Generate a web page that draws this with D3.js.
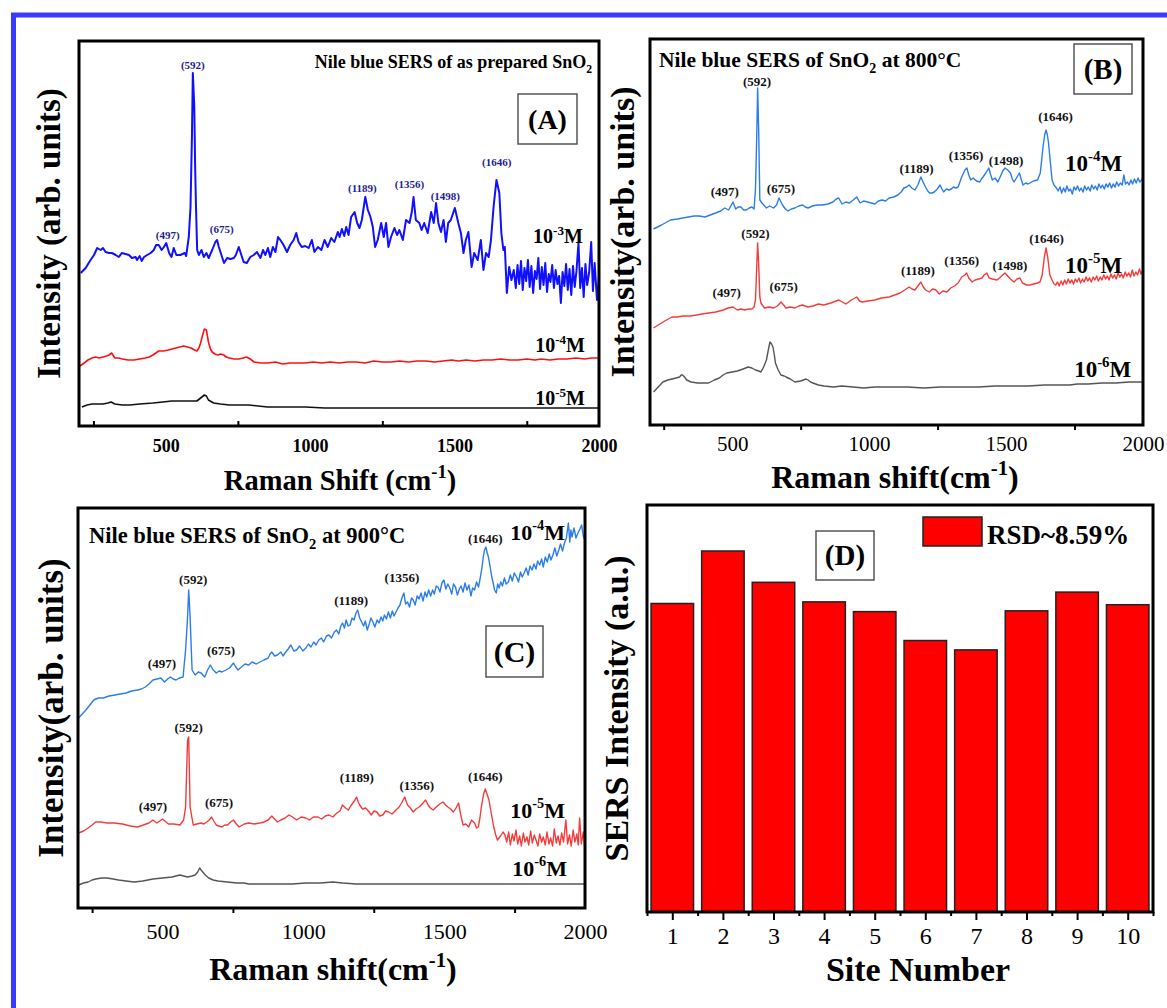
<!DOCTYPE html>
<html>
<head>
<meta charset="utf-8">
<script src="https://cdn.jsdelivr.net/npm/d3@7"></script>
<style>
body { margin: 0; background: #fff; }
text { font-family: "Liberation Serif", "Times New Roman", serif; }
</style>
</head>
<body>
<svg id="fig"></svg>
<script>
// ---------- data (Raman shift cm-1, intensity arb. units) ----------
var aBlue3 = [[206,153],[223,158],[240,166],[252,171],[263,178],[275,176],[283,178],[292,174],[304,173],[314,173],[327,171],[338,169],[348,173],[361,172],[373,171],[383,168],[396,169],[401,166],[410,170],[417,165],[425,169],[436,171],[448,173],[459,176],[467,181],[476,181],[486,176],[494,179],[502,183],[512,173],[520,169],[528,178],[537,171],[551,171],[566,173],[571,170],[580,189],[586,219],[591,290],[594,353],[599,320],[602,260],[605,219],[609,176],[615,171],[624,176],[632,169],[641,173],[649,168],[661,176],[672,184],[678,186],[684,179],[693,171],[702,163],[713,168],[724,167],[736,168],[743,171],[753,179],[762,171],[770,164],[781,163],[793,169],[805,171],[816,174],[828,168],[837,176],[845,171],[854,178],[862,169],[871,179],[880,174],[889,189],[897,186],[908,181],[920,174],[931,181],[943,186],[952,193],[960,184],[971,179],[983,180],[995,178],[1006,186],[1015,174],[1027,179],[1039,176],[1050,186],[1061,179],[1073,188],[1084,184],[1096,194],[1102,189],[1110,197],[1118,190],[1125,199],[1133,191],[1142,209],[1154,214],[1163,203],[1171,198],[1179,206],[1191,229],[1200,216],[1209,209],[1217,199],[1225,179],[1234,186],[1246,203],[1255,189],[1263,203],[1271,179],[1280,189],[1292,198],[1301,191],[1309,196],[1321,186],[1332,206],[1344,203],[1352,214],[1358,229],[1366,206],[1378,203],[1386,196],[1395,203],[1407,193],[1419,214],[1428,203],[1436,223],[1444,203],[1453,194],[1462,206],[1470,184],[1478,203],[1487,206],[1501,218],[1513,203],[1522,193],[1531,173],[1539,186],[1548,194],[1559,159],[1568,173],[1580,166],[1591,186],[1600,156],[1609,173],[1618,169],[1626,186],[1635,219],[1645,246],[1655,233],[1662,193],[1669,176],[1674,179],[1681,133],[1689,159],[1697,146],[1705,156],[1712,138],[1718,161],[1724,142],[1730,165],[1736,136],[1742,158],[1748,145],[1754,166],[1760,139],[1766,160],[1772,133],[1778,155],[1784,147],[1790,168],[1796,137],[1802,159],[1808,141],[1814,163],[1820,134],[1826,152],[1832,144],[1838,161],[1844,138],[1850,156],[1856,142],[1862,150],[1868,123],[1874,154],[1880,140],[1886,162],[1892,136],[1898,157],[1904,131],[1910,160],[1916,139],[1922,155],[1929,183],[1935,138],[1941,158],[1947,129],[1953,162],[1959,141],[1966,154],[1973,184],[1979,135],[1985,163],[1993,126],[2000,150]];
var aRed4 = [[203,60],[218,63],[231,66],[245,68],[258,69],[270,68],[283,69],[295,70],[304,71],[313,73],[324,68],[337,68],[350,67],[370,66],[390,66],[410,67],[429,68],[443,69],[456,71],[466,73],[476,75],[492,75],[509,76],[522,77],[535,78],[549,79],[562,80],[575,79],[588,78],[600,76],[608,75],[615,78],[621,83],[627,90],[634,97],[641,96],[648,84],[655,77],[661,74],[670,72],[680,71],[690,72],[701,71],[710,69],[720,68],[737,67],[753,67],[768,68],[780,69],[793,67],[806,64],[830,63],[853,63],[880,64],[905,62],[930,63],[960,63],[984,63],[1010,64],[1040,63],[1070,64],[1100,63],[1130,64],[1160,64],[1190,63],[1220,65],[1249,64],[1280,64],[1310,65],[1340,64],[1370,65],[1400,65],[1430,64],[1460,65],[1490,66],[1513,65],[1540,66],[1570,65],[1600,66],[1630,66],[1660,67],[1690,66],[1720,66],[1750,67],[1778,66],[1800,67],[1830,66],[1860,67],[1890,67],[1920,68],[1950,67],[1975,68],[1998,68]];
var aBlack5 = [[210,19],[228,21],[245,22],[265,22],[283,22],[300,23],[311,24],[324,22],[350,21],[376,21],[410,22],[456,23],[490,24],[521,25],[555,25],[587,25],[608,25],[621,28],[634,31],[641,30],[648,26],[666,23],[690,22],[720,21],[750,21],[787,21],[820,20],[853,19],[900,19],[984,19],[1050,18],[1150,18],[1250,18],[1400,18],[1550,18],[1700,18],[1850,18],[1998,18]];

var bBlue4 = [[213,196],[242,200],[275,205],[300,206],[320,207],[340,208],[361,209],[380,209],[401,208],[420,210],[440,212],[458,214],[473,217],[487,215],[503,223],[513,216],[522,218],[532,218],[542,215],[552,215],[562,217],[572,218],[580,216],[585,235],[590,292],[593,337],[597,292],[601,225],[609,222],[625,217],[637,219],[651,217],[662,220],[671,227],[684,220],[694,216],[704,214],[716,216],[729,217],[743,219],[757,220],[767,218],[777,217],[793,219],[810,220],[829,220],[850,221],[868,223],[880,226],[889,227],[901,221],[915,223],[928,222],[942,225],[955,228],[967,222],[980,224],[994,223],[1008,222],[1021,221],[1034,224],[1047,225],[1060,224],[1073,227],[1090,228],[1105,230],[1117,233],[1127,237],[1137,238],[1146,240],[1156,237],[1167,235],[1178,240],[1189,248],[1197,243],[1206,238],[1214,234],[1221,232],[1230,232],[1238,233],[1249,236],[1259,240],[1266,236],[1272,233],[1282,236],[1292,235],[1300,236],[1308,238],[1317,237],[1325,238],[1338,248],[1350,255],[1357,257],[1364,250],[1371,245],[1380,247],[1392,244],[1404,243],[1410,246],[1416,248],[1426,252],[1437,257],[1443,251],[1450,245],[1460,247],[1470,243],[1480,249],[1488,254],[1496,257],[1506,255],[1516,252],[1523,246],[1529,243],[1540,248],[1549,252],[1556,245],[1562,240],[1572,242],[1580,241],[1587,242],[1600,244],[1615,245],[1625,252],[1635,278],[1641,290],[1646,295],[1651,290],[1655,282],[1662,262],[1668,245],[1675,240],[1684,237],[1690,234],[1697,238],[1703,232],[1710,237],[1716,233],[1722,239],[1729,234],[1735,236],[1742,231],[1748,238],[1755,235],[1761,239],[1768,234],[1774,237],[1781,233],[1787,239],[1794,235],[1800,238],[1807,234],[1813,240],[1820,236],[1826,239],[1833,235],[1839,241],[1846,237],[1852,240],[1859,236],[1865,241],[1872,238],[1878,242],[1885,237],[1891,241],[1898,238],[1904,243],[1911,239],[1917,242],[1924,240],[1930,250],[1936,241],[1943,243],[1949,240],[1956,245],[1962,241],[1969,246],[1975,242],[1982,247],[1988,243],[1998,246]];
var bRed5 = [[213,97],[230,100],[242,102],[260,105],[280,108],[300,108],[320,109],[346,109],[370,110],[390,111],[414,112],[440,113],[467,115],[485,117],[503,118],[519,115],[532,116],[546,115],[560,116],[572,116],[580,118],[585,125],[590,160],[593,182],[597,160],[601,128],[605,122],[618,117],[635,118],[651,117],[665,119],[678,123],[688,120],[696,117],[712,118],[729,117],[743,119],[757,120],[777,118],[795,119],[815,121],[835,120],[860,122],[889,125],[902,123],[915,121],[935,125],[955,128],[965,124],[974,123],[995,124],[1021,125],[1045,127],[1073,128],[1093,130],[1113,132],[1130,135],[1146,138],[1157,136],[1167,135],[1178,139],[1189,143],[1198,138],[1206,135],[1220,133],[1232,136],[1244,135],[1256,131],[1270,134],[1284,133],[1298,137],[1312,139],[1325,142],[1338,148],[1350,150],[1356,152],[1364,147],[1376,143],[1387,145],[1400,146],[1412,147],[1420,150],[1430,152],[1438,147],[1450,146],[1467,145],[1480,148],[1496,152],[1506,149],[1516,146],[1529,143],[1540,146],[1551,147],[1560,142],[1575,140],[1587,140],[1600,141],[1615,142],[1624,143],[1632,150],[1640,168],[1646,177],[1652,168],[1660,150],[1668,145],[1675,141],[1681,140],[1688,143],[1694,139],[1701,144],[1707,140],[1714,145],[1720,141],[1727,146],[1733,142],[1740,145],[1746,141],[1753,146],[1759,143],[1766,147],[1772,142],[1779,146],[1785,143],[1792,148],[1798,144],[1805,147],[1811,143],[1818,148],[1824,145],[1831,149],[1837,144],[1844,148],[1850,145],[1857,150],[1863,146],[1870,149],[1876,145],[1883,151],[1889,147],[1896,150],[1902,146],[1909,152],[1915,148],[1922,151],[1928,147],[1935,153],[1941,149],[1948,152],[1954,148],[1961,155],[1967,149],[1974,153],[1980,150],[1987,156],[1993,151],[1998,154]];
var bGray6 = [[213,33],[230,38],[247,43],[265,45],[280,46],[295,47],[308,48],[314,50],[319,50],[326,48],[334,45],[350,43],[374,42],[395,42],[414,42],[435,45],[453,47],[467,50],[480,52],[500,53],[519,54],[540,56],[558,58],[572,57],[585,55],[597,54],[605,53],[615,58],[625,65],[632,75],[638,83],[644,81],[649,78],[654,70],[658,62],[668,55],[678,50],[690,49],[697,48],[712,46],[729,43],[750,44],[770,46],[777,45],[786,43],[795,42],[815,40],[835,39],[870,38],[900,39],[941,38],[980,37],[1020,38],[1080,38],[1140,38],[1200,37],[1260,38],[1338,38],[1400,38],[1460,39],[1520,39],[1580,39],[1640,40],[1690,40],[1733,40],[1760,41],[1800,41],[1850,42],[1900,42],[1950,43],[1998,43]];

var cBlue4 = [[202,190],[215,194],[228,198],[242,203],[256,208],[272,210],[290,210],[310,212],[331,213],[350,214],[371,215],[390,217],[412,218],[425,219],[439,221],[452,224],[466,228],[480,229],[494,230],[507,226],[518,229],[528,231],[538,229],[548,228],[560,230],[573,231],[582,258],[589,291],[593,318],[598,291],[605,238],[616,233],[627,236],[637,235],[650,231],[660,238],[670,243],[680,238],[691,235],[701,237],[711,236],[725,238],[738,240],[752,245],[760,241],[768,238],[780,241],[793,244],[806,243],[818,246],[833,244],[846,246],[860,248],[875,250],[882,254],[888,256],[898,252],[908,253],[920,256],[928,252],[935,255],[946,259],[956,263],[966,257],[976,258],[987,262],[998,257],[1009,260],[1018,264],[1027,261],[1037,266],[1045,263],[1055,268],[1064,270],[1072,266],[1082,272],[1091,273],[1100,270],[1110,276],[1118,278],[1126,274],[1133,282],[1139,285],[1146,280],[1152,288],[1159,282],[1166,283],[1173,290],[1180,288],[1187,295],[1193,298],[1200,290],[1207,286],[1214,282],[1220,287],[1227,278],[1234,284],[1240,290],[1247,286],[1254,281],[1262,288],[1269,285],[1276,291],[1282,287],[1288,293],[1295,289],[1302,296],[1309,290],[1316,297],[1322,292],[1329,296],[1336,300],[1343,303],[1350,310],[1357,315],[1363,304],[1370,306],[1377,301],[1384,310],[1390,308],[1397,303],[1404,312],[1411,309],[1418,315],[1425,307],[1432,316],[1438,311],[1445,318],[1452,312],[1459,318],[1465,314],[1472,322],[1478,321],[1485,316],[1492,325],[1499,328],[1506,319],[1513,324],[1520,320],[1527,314],[1533,324],[1540,321],[1547,313],[1554,319],[1560,322],[1567,316],[1574,325],[1581,318],[1588,323],[1595,312],[1601,320],[1608,318],[1615,326],[1622,321],[1628,330],[1634,340],[1639,351],[1643,358],[1648,361],[1653,355],[1657,351],[1664,340],[1669,331],[1674,325],[1679,318],[1685,315],[1690,324],[1695,320],[1701,326],[1707,322],[1714,330],[1720,324],[1728,326],[1735,333],[1742,327],[1749,335],[1757,331],[1764,326],[1771,336],[1777,331],[1784,335],[1791,340],[1798,333],[1805,342],[1812,338],[1819,344],[1826,339],[1832,347],[1839,343],[1846,349],[1852,341],[1859,351],[1866,346],[1873,354],[1879,348],[1886,353],[1893,360],[1900,352],[1907,358],[1913,364],[1920,357],[1927,365],[1934,370],[1941,385],[1946,366],[1950,378],[1954,371],[1961,380],[1968,370],[1975,375],[1982,379],[1988,383],[1994,372],[1999,368]];
var cRed5 = [[202,75],[220,77],[236,80],[250,83],[263,86],[280,86],[303,85],[330,85],[358,84],[385,82],[412,81],[432,83],[452,85],[466,88],[480,85],[500,89],[521,84],[540,84],[562,83],[575,88],[582,101],[589,168],[593,171],[598,101],[609,83],[622,84],[637,85],[647,84],[657,86],[666,88],[674,91],[682,87],[691,83],[700,82],[711,81],[721,83],[731,83],[742,86],[752,88],[762,84],[772,81],[790,84],[806,85],[826,84],[846,85],[860,86],[875,88],[888,92],[898,89],[908,86],[920,88],[935,90],[949,93],[962,91],[976,88],[992,91],[1009,90],[1022,88],[1036,91],[1051,91],[1065,89],[1078,92],[1091,93],[1105,91],[1119,95],[1130,97],[1139,103],[1150,100],[1160,98],[1168,102],[1176,105],[1183,108],[1189,111],[1195,106],[1200,103],[1210,99],[1221,100],[1231,97],[1241,93],[1251,97],[1261,96],[1271,92],[1282,93],[1292,97],[1302,96],[1315,94],[1329,98],[1340,101],[1349,105],[1360,111],[1366,106],[1370,103],[1380,100],[1390,96],[1400,99],[1411,101],[1422,104],[1434,108],[1443,103],[1451,100],[1461,98],[1472,101],[1484,104],[1496,106],[1505,103],[1513,101],[1523,99],[1533,96],[1542,100],[1551,105],[1559,93],[1567,83],[1577,84],[1587,81],[1597,88],[1608,85],[1615,80],[1621,81],[1627,90],[1632,101],[1640,114],[1646,119],[1652,114],[1659,108],[1667,95],[1676,81],[1682,74],[1689,68],[1700,72],[1709,76],[1716,73],[1722,66],[1729,76],[1735,63],[1742,74],[1748,67],[1755,78],[1761,64],[1768,72],[1774,62],[1781,75],[1787,66],[1794,71],[1800,63],[1807,77],[1813,65],[1820,73],[1826,68],[1833,62],[1839,74],[1846,66],[1852,71],[1859,63],[1865,76],[1872,64],[1878,70],[1885,62],[1891,79],[1898,65],[1904,72],[1911,63],[1917,75],[1924,66],[1932,88],[1938,64],[1945,73],[1951,62],[1958,78],[1964,66],[1971,74],[1976,63],[1981,90],[1987,64],[1994,76],[1999,61]];
var cGray6 = [[202,23],[220,25],[236,26],[250,28],[263,29],[283,30],[303,30],[325,29],[344,28],[370,27],[399,26],[430,27],[466,29],[500,30],[534,31],[562,33],[575,32],[589,31],[605,32],[616,33],[625,36],[632,40],[637,38],[643,36],[652,33],[664,30],[680,28],[697,27],[730,26],[764,25],[790,25],[806,24],[840,24],[875,24],[920,24],[960,24],[1009,25],[1060,25],[1105,26],[1140,25],[1187,24],[1230,24],[1282,24],[1350,24],[1450,24],[1550,24],[1650,24],[1750,24],[1850,24],[1950,24],[1999,24]];

// peak annotations: [shift, intensity, label]
var aPeaks3 = [[594,361,"(592)"],[507,191,"(497)"],[694,197,"(675)"],[1181,238,"(1189)"],[1344,242,"(1356)"],[1468,230,"(1498)"],[1646,264,"(1646)"]];
var bPeaks4 = [[591,344,"(592)"],[473,234,"(497)"],[678,237,"(675)"],[1173,257,"(1189)"],[1354,270,"(1356)"],[1500,265,"(1498)"],[1681,309,"(1646)"]];
var bPeaks5 = [[585,192,"(592)"],[480,133,"(497)"],[688,139,"(675)"],[1178,155,"(1189)"],[1338,165,"(1356)"],[1514,160,"(1498)"],[1648,187,"(1646)"]];
var cPeaks4 = [[609,329,"(592)"],[498,245,"(497)"],[708,258,"(675)"],[1170,308,"(1189)"],[1350,331,"(1356)"],[1646,370,"(1646)"]];
var cPeaks5 = [[593,181,"(592)"],[466,102,"(497)"],[701,106,"(675)"],[1190,131,"(1189)"],[1403,123,"(1356)"],[1646,132,"(1646)"]];

// concentration tags: [shift, intensity, exponent]
var aConc = [[1858,190,"-3"],[1865,81,"-4"],[1865,28,"-5"]];
var bConc = [[1820,262,"-4"],[1820,160,"-5"],[1853,56,"-6"]];
var cConc = [[1832,376,"-4"],[1832,98,"-5"],[1839,40,"-6"]];

var shiftTicks = [500, 1000, 1500, 2000];
var shiftMinor = [250, 750, 1250, 1750];

var sites = [1, 2, 3, 4, 5, 6, 7, 8, 9, 10];
var siteIntensity = [758, 887, 810, 762, 738, 667, 644, 740, 786, 755];

// ---------- drawing ----------
var W = 1167, H = 1008;
var svg = d3.select("#fig").attr("width", W).attr("height", H);
svg.append("rect").attr("width", W).attr("height", H).attr("fill", "#fff");

// blue outer frame (top and left only)
svg.append("path")
    .attr("d", "M13.5,1008 L13.5,15 L1167,15")
    .attr("fill", "none")
    .attr("stroke", "#3a3aff")
    .attr("stroke-width", 5);

function rich(sel, parts, size) {
  var shift = 0;
  parts.forEach(function(p) {
    var target = p.sup ? -0.42 * size : (p.sub ? 0.28 * size : 0);
    var ts = sel.append("tspan").text(p.t);
    if (target - shift !== 0) ts.attr("dy", target - shift);
    if (p.sup || p.sub) ts.attr("font-size", size * 0.65);
    shift = target;
  });
}

function tagBox(g, x0, y0, x1, y1, label, size) {
  g.append("rect").attr("x", x0).attr("y", y0)
    .attr("width", x1 - x0).attr("height", y1 - y0)
    .attr("fill", "#fff").attr("stroke", "#555").attr("stroke-width", 1.5);
  g.append("text").attr("x", (x0 + x1) / 2).attr("y", (y0 + y1) / 2 + size * 0.34)
    .attr("text-anchor", "middle").attr("font-weight", "bold")
    .attr("font-size", size).text(label);
}

var panelId = 0;
function drawSpectra(p) {
  var b = p.box;
  var x = d3.scaleLinear().domain([200, 2000]).range([b[0], b[2]]);
  var y = d3.scaleLinear().domain([0, p.yMax]).range([b[3], b[1]]);
  var g = svg.append("g");
  var cid = "clip" + (panelId++);
  g.append("clipPath").attr("id", cid).append("rect")
    .attr("x", b[0]).attr("y", b[1]).attr("width", b[2] - b[0]).attr("height", b[3] - b[1]);

  var line = d3.line().x(function(d) { return x(d[0]); }).y(function(d) { return y(d[1]); });
  p.traces.forEach(function(t) {
    g.append("path").datum(t.data)
      .attr("clip-path", "url(#" + cid + ")")
      .attr("fill", "none").attr("stroke", t.color)
      .attr("stroke-width", t.width).attr("stroke-linejoin", "round")
      .attr("d", line);
  });

  // peak labels
  p.peaks.forEach(function(set) {
    g.selectAll(null).data(set.data).enter().append("text")
      .attr("x", function(d) { return x(d[0]); })
      .attr("y", function(d) { return y(d[1]) + set.size * 0.35; })
      .attr("text-anchor", "middle").attr("font-weight", "bold")
      .attr("font-size", set.size).attr("fill", set.color)
      .text(function(d) { return d[2]; });
  });

  // concentration labels
  p.conc.forEach(function(c) {
    var t = g.append("text").attr("x", x(c[0])).attr("y", y(c[1]) + p.concSize * 0.35)
      .attr("text-anchor", "middle").attr("font-weight", "bold").attr("font-size", p.concSize);
    rich(t, [{t: "10"}, {t: c[2], sup: true}, {t: "M"}], p.concSize);
  });

  // minor ticks
  var minor = g.append("g").attr("transform", "translate(0," + b[3] + ")")
    .call(d3.axisBottom(x).tickValues(shiftMinor).tickFormat("")
      .tickSizeInner(p.tickIn ? -5 : 5).tickSizeOuter(0));
  minor.select(".domain").remove();
  minor.selectAll("line").attr("stroke", "#000").attr("stroke-width", 2);

  // tick labels
  var lab = g.append("g").attr("transform", "translate(0," + b[3] + ")")
    .call(d3.axisBottom(x).tickValues(shiftTicks).tickFormat(d3.format("d"))
      .tickSize(0).tickPadding(p.tickPad));
  lab.select(".domain").remove();
  lab.selectAll("text").attr("font-family", "Liberation Serif, serif")
    .attr("font-size", p.tickSize).attr("font-weight", p.tickBold ? "bold" : "normal")
    .attr("fill", "#000");

  // frame
  g.append("rect").attr("x", b[0]).attr("y", b[1])
    .attr("width", b[2] - b[0]).attr("height", b[3] - b[1])
    .attr("fill", "none").attr("stroke", "#000").attr("stroke-width", 3);

  // title
  var tt = g.append("text").attr("x", p.title.x).attr("y", p.title.y)
    .attr("text-anchor", p.title.anchor).attr("font-weight", "bold")
    .attr("font-size", p.title.size);
  rich(tt, p.title.parts, p.title.size);

  tagBox(g, p.tag[0], p.tag[1], p.tag[2], p.tag[3], p.tag[4], p.tag[5]);

  // axis titles
  g.append("text")
    .attr("transform", "translate(" + p.ylab.x + "," + (b[1] + b[3]) / 2 + ") rotate(-90)")
    .attr("text-anchor", "middle").attr("font-weight", "bold").attr("font-size", p.ylab.size)
    .text(p.ylab.text);
  var xl = g.append("text").attr("x", p.xlab.x).attr("y", p.xlab.y)
    .attr("text-anchor", "middle").attr("font-weight", "bold").attr("font-size", p.xlab.size);
  rich(xl, p.xlab.parts, p.xlab.size);
}

// Panel A
drawSpectra({
  box: [79, 41, 599, 426], yMax: 385,
  traces: [
    {data: aBlue3, color: "#1010ff", width: 2},
    {data: aRed4, color: "#ff1010", width: 1.6},
    {data: aBlack5, color: "#111", width: 1.6}
  ],
  peaks: [{data: aPeaks3, color: "#1c1c96", size: 11}],
  conc: aConc, concSize: 20,
  tickIn: true, tickSize: 18, tickBold: true, tickPad: 13,
  title: {x: 592, y: 68, anchor: "end", size: 18,
          parts: [{t: "Nile blue SERS of as prepared SnO"}, {t: "2", sub: true}]},
  tag: [518, 94, 577, 144, "(A)", 28],
  ylab: {x: 60, size: 33, text: "Intensity (arb. units)"},
  xlab: {x: 340, y: 490, size: 28.5,
         parts: [{t: "Raman Shift (cm"}, {t: "-1", sup: true}, {t: ")"}]}
});

// Panel B
drawSpectra({
  box: [650, 39, 1143, 425], yMax: 386,
  traces: [
    {data: bBlue4, color: "#2b7de9", width: 1.4},
    {data: bRed5, color: "#f43c3c", width: 1.4},
    {data: bGray6, color: "#555", width: 1.4}
  ],
  peaks: [{data: bPeaks4, color: "#111", size: 13}, {data: bPeaks5, color: "#111", size: 13}],
  conc: bConc, concSize: 23,
  tickIn: false, tickSize: 21, tickBold: false, tickPad: 11,
  title: {x: 659, y: 67, anchor: "start", size: 21.5,
          parts: [{t: "Nile blue SERS of SnO"}, {t: "2", sub: true}, {t: " at 800°C"}]},
  tag: [1074, 44, 1132, 94, "(B)", 29],
  ylab: {x: 634, size: 34, text: "Intensity(arb. units)"},
  xlab: {x: 895, y: 488, size: 32,
         parts: [{t: "Raman shift(cm"}, {t: "-1", sup: true}, {t: ")"}]}
});

// Panel C
drawSpectra({
  box: [78, 508, 585, 908], yMax: 400,
  traces: [
    {data: cBlue4, color: "#2b7de9", width: 1.4},
    {data: cRed5, color: "#f43c3c", width: 1.4},
    {data: cGray6, color: "#555", width: 1.4}
  ],
  peaks: [{data: cPeaks4, color: "#111", size: 13}, {data: cPeaks5, color: "#111", size: 13}],
  conc: cConc, concSize: 22,
  tickIn: false, tickSize: 22, tickBold: false, tickPad: 15,
  title: {x: 89, y: 543, anchor: "start", size: 22.5,
          parts: [{t: "Nile blue SERS of SnO"}, {t: "2", sub: true}, {t: " at 900°C"}]},
  tag: [486, 626, 543, 677, "(C)", 30],
  ylab: {x: 63, size: 35, text: "Intensity(arb. units)"},
  xlab: {x: 333, y: 980, size: 32,
         parts: [{t: "Raman shift(cm"}, {t: "-1", sup: true}, {t: ")"}]}
});

// Panel D : bar chart
(function() {
  var b = [647, 505, 1153, 912];
  var x = d3.scaleBand().domain(sites).range([b[0], b[2]]).paddingInner(0.16).paddingOuter(0.08);
  var y = d3.scaleLinear().domain([0, 1000]).range([b[3], b[1]]);
  var g = svg.append("g");

  g.selectAll(".bar").data(sites).enter().append("rect")
    .attr("class", "bar")
    .attr("x", function(d) { return x(d); })
    .attr("width", x.bandwidth())
    .attr("y", function(d, i) { return y(siteIntensity[i]); })
    .attr("height", function(d, i) { return y(0) - y(siteIntensity[i]); })
    .attr("fill", "#ff0000").attr("stroke", "#222").attr("stroke-width", 1.5);

  var xl = d3.scaleLinear().domain([0.5, 10.5]).range([b[0], b[2]]);
  var major = g.append("g").attr("transform", "translate(0," + b[3] + ")")
    .call(d3.axisBottom(xl).tickValues(sites).tickSizeInner(8).tickSizeOuter(0).tickPadding(7));
  major.select(".domain").remove();
  major.selectAll("line").attr("stroke", "#000").attr("stroke-width", 2);
  major.selectAll("text").attr("font-family", "Liberation Serif, serif")
    .attr("font-size", 24).attr("fill", "#000");
  var minor = g.append("g").attr("transform", "translate(0," + b[3] + ")")
    .call(d3.axisBottom(xl).tickValues(d3.range(0.5, 11, 1)).tickFormat("")
      .tickSizeInner(4).tickSizeOuter(0));
  minor.select(".domain").remove();
  minor.selectAll("line").attr("stroke", "#000").attr("stroke-width", 2);

  g.append("rect").attr("x", b[0]).attr("y", b[1])
    .attr("width", b[2] - b[0]).attr("height", b[3] - b[1])
    .attr("fill", "none").attr("stroke", "#000").attr("stroke-width", 3);

  // legend
  g.append("rect").attr("x", 923).attr("y", 517).attr("width", 59).attr("height", 29)
    .attr("fill", "#ff0000").attr("stroke", "#222").attr("stroke-width", 1.5);
  g.append("text").attr("x", 987).attr("y", 544).attr("font-weight", "bold")
    .attr("font-size", 27).text("RSD~8.59%");

  tagBox(g, 816, 531, 874, 580, "(D)", 29);

  g.append("text")
    .attr("transform", "translate(628," + (b[1] + b[3]) / 2 + ") rotate(-90)")
    .attr("text-anchor", "middle").attr("font-weight", "bold").attr("font-size", 34)
    .text("SERS Intensity (a.u.)");
  g.append("text").attr("x", 918).attr("y", 981)
    .attr("text-anchor", "middle").attr("font-weight", "bold").attr("font-size", 34)
    .text("Site Number");
})();
</script>
</body>
</html>
